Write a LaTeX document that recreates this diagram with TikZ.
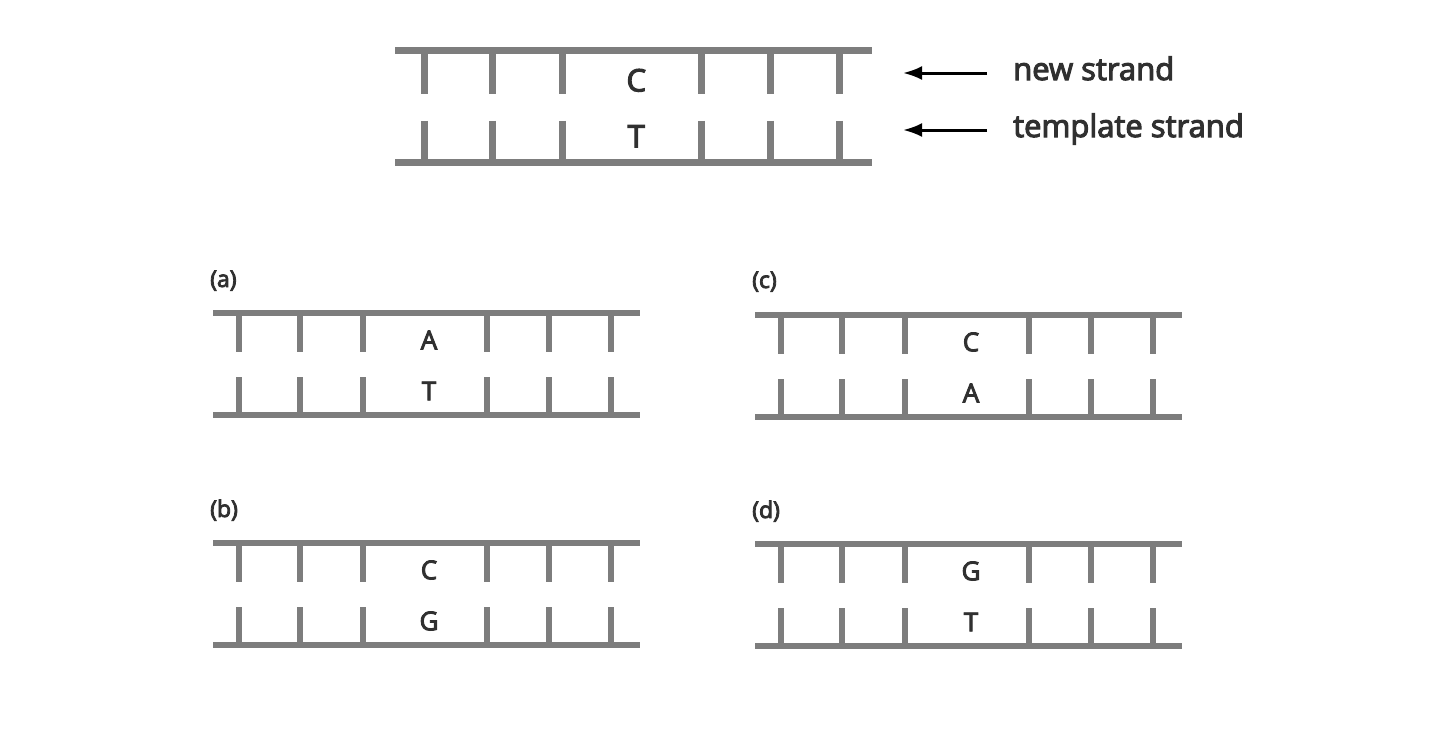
\documentclass[tikz,border=0pt]{standalone}
\usepackage{fontspec}
\setmainfont{Open Sans}[FakeBold=3.5]
\usetikzlibrary{arrows.meta}
\definecolor{bbgray}{HTML}{7D7D7D}
\definecolor{txt}{HTML}{303030}
\tikzset{
  bb/.style={draw=bbgray, line width=#1},
  bb/.default=6.5pt,
  basel/.style={font=\fontsize{#1}{#1}\selectfont, text=txt, inner sep=0pt},
  lbl/.style={anchor=base west, font=\fontsize{31}{31}\selectfont, text=txt, inner sep=0pt},
  plbl/.style={anchor=base west, font=\fontsize{23}{23}\selectfont, text=txt, inner sep=0pt},
  arr/.style={draw=black, line width=3pt, -{Latex[length=19pt,width=14pt]}},
}
% #1 x, #2 y, #3 xscale, #4 yscale, #5 top letter, #6 bottom letter, #7 prefix, #8 font size, #9 line width
\newcommand\dnaladder[9]{%
\begin{scope}[shift={(#1,#2)}, xscale=#3, yscale=#4]
  \draw[bb=#9] (0,0) -- (427,0);
  \draw[bb=#9] (0,102) -- (427,102);
  \foreach \rx in {26,87,150,274,336,398}{
    \draw[bb=#9] (\rx,0) -- (\rx,39);
    \draw[bb=#9] (\rx,64) -- (\rx,102);
  }
  \node[basel=#8] (#7top) at (216,27) {#5};
  \node[basel=#8] (#7bot) at (216,78) {#6};
\end{scope}}
\begin{document}
\begin{tikzpicture}[x=1pt,y=-1pt]
\fill[white] (0,0) rectangle (1440,731);
\useasboundingbox (0,0) rectangle (1440,731);
% top reference ladder
\dnaladder{395}{50.7}{1.117}{1.098}{C}{T}{ref}{31}{7pt}
\node[lbl] (newlbl) at (1013,80) {new strand};
\node[lbl] (tmpllbl) at (1013,137) {template strand};
\coordinate (newtip) at (903,73);
\coordinate (tmpltip) at (903,130);
\draw[arr] (newlbl.west |- newtip) ++(-26,0) coordinate (news) -- (newtip);
\draw[arr] (tmpllbl.west |- tmpltip) ++(-26,0) coordinate (tmpls) -- (tmpltip);
% panels
\node[plbl] (la) at (210,287) {(a)};
\dnaladder{213}{313}{1}{1}{A}{T}{a}{26}{6pt}
\node[plbl] (lb) at (210,517) {(b)};
\dnaladder{213}{543}{1}{1}{C}{G}{b}{26}{6pt}
\node[plbl] (lc) at (752,288) {(c)};
\dnaladder{755}{315}{1}{1}{C}{A}{c}{26}{6pt}
\node[plbl] (ld) at (752,518) {(d)};
\dnaladder{755}{544}{1}{1}{G}{T}{d}{26}{6pt}
\end{tikzpicture}
\end{document}
